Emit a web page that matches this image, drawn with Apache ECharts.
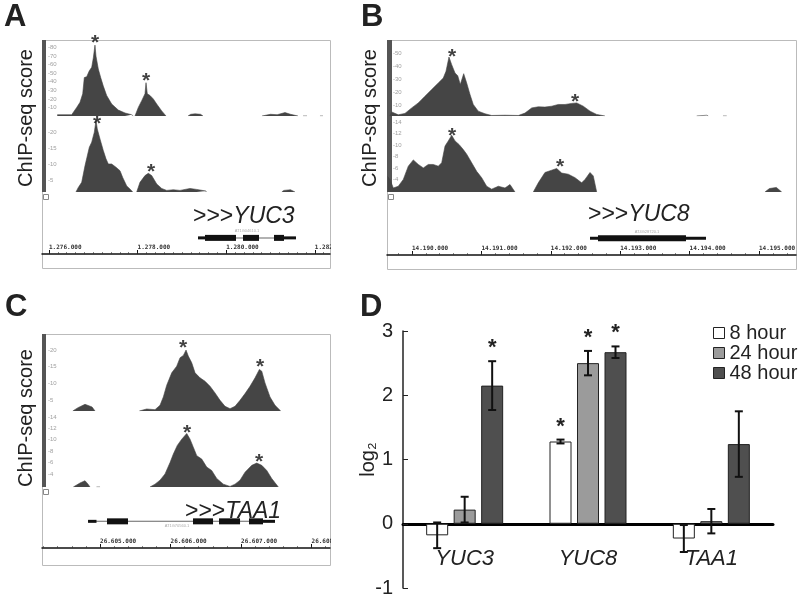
<!DOCTYPE html>
<html>
<head>
<meta charset="utf-8">
<script src="https://cdn.jsdelivr.net/npm/echarts@6/dist/echarts.min.js"></script>
<style>
html,body{margin:0;padding:0;background:#fff}
#main{width:800px;height:598px}
</style>
</head>
<body>
<div id="main"></div>
<script>
// ChIP-seq tracks, x in kb, y = score ; null = no reads
var trackA1 = [[1276.187,1.5],[1276.512,1.5],[1276.625,10],[1276.700,16],[1276.761,26],[1276.797,45],[1276.851,46],[1276.910,53],[1276.964,57],[1277.000,68],[1277.038,83],[1277.061,70],[1277.113,55],[1277.167,45],[1277.226,35],[1277.302,24],[1277.415,14],[1277.564,7],[1277.716,3.5],[1277.867,1.5],[1277.903,0],[1277.92,null],
  [1277.941,0],[1277.95,1.5],[1278.016,10],[1278.093,18],[1278.167,26],[1278.190,39],[1278.219,26],[1278.280,24],[1278.354,20],[1278.431,14],[1278.544,6],[1278.641,0],[1278.9,null],
  [1279.138,0],[1279.2,2],[1279.3,2.5],[1279.42,2],[1279.476,0],[1280.0,null],
  [1280.808,0],[1280.85,1.5],[1281.0,2],[1281.15,1.5],[1281.327,4],[1281.45,2],[1281.621,0],[1281.68,null],
  [1281.734,0],[1281.76,1.5],[1281.824,0],[1282.0,null],[1282.117,0],[1282.15,1.5],[1282.185,0]];
var trackA2 = [[1276.609,1.5],[1276.661,2.9],[1276.738,4.5],[1276.813,9.7],[1276.910,15.4],[1276.964,17],[1277.023,20.1],[1277.061,23.8],[1277.090,21.1],[1277.151,18],[1277.226,14.4],[1277.287,11.8],[1277.339,10.2],[1277.415,10.2],[1277.512,9.2],[1277.603,8.1],[1277.664,6],[1277.754,3.4],[1277.844,2.2],[1277.889,1.5],[1277.93,null],
  [1277.980,1.5],[1277.99,2],[1278.054,4.5],[1278.167,6.6],[1278.242,7.3],[1278.318,6.6],[1278.431,4],[1278.544,2.6],[1278.657,2],[1278.806,2.2],[1278.957,2],[1279.183,2.6],[1279.334,2.3],[1279.544,1.8],[1279.55,1.5],[1280.5,null],
  [1281.253,1.5],[1281.3,2],[1281.45,2.2],[1281.553,1.5]];
var trackB1 = [[14189.680,2],[14189.707,5.1],[14189.803,2.9],[14189.899,4],[14189.996,8.2],[14190.091,12],[14190.187,17.1],[14190.284,22.2],[14190.379,27.2],[14190.451,31],[14190.490,36.1],[14190.533,47],[14190.572,41.2],[14190.620,34.8],[14190.659,32.8],[14190.696,26],[14190.745,34.3],[14190.788,27.2],[14190.836,18.4],[14190.883,10.8],[14190.955,5.7],[14191.052,3.7],[14191.148,2.4],[14191.340,2.6],[14191.532,2.4],[14191.628,4.2],[14191.725,8.2],[14191.820,9],[14191.916,8.8],[14192.013,9.5],[14192.108,10.8],[14192.205,10.8],[14192.301,11.6],[14192.373,12],[14192.468,9.5],[14192.565,5.7],[14192.661,3.2],[14192.781,2],[14193.5,null],
  [14194.102,2],[14194.12,2.6],[14194.25,2.6],[14194.269,2],[14194.4,null],[14194.481,2],[14194.5,3],[14194.535,2]];
var trackB2 = [[14189.650,4.5],[14189.683,4],[14189.731,2.5],[14189.803,2.8],[14189.875,4],[14189.947,6.3],[14190.019,7.4],[14190.091,6.6],[14190.163,6],[14190.235,6.6],[14190.307,6.6],[14190.379,6.3],[14190.428,6.9],[14190.476,9.8],[14190.523,10.7],[14190.572,11.7],[14190.620,10.7],[14190.677,10.1],[14190.739,9.2],[14190.788,8.4],[14190.860,6.9],[14190.932,5.4],[14191.004,4.3],[14191.076,2.8],[14191.148,2.3],[14191.244,2.8],[14191.340,2.5],[14191.412,3.1],[14191.484,1.8],[14191.6,null],
  [14191.748,1.8],[14191.820,3.4],[14191.916,5.2],[14192.013,5.6],[14192.085,5.9],[14192.157,5.1],[14192.252,4.9],[14192.349,4.3],[14192.445,3.4],[14192.493,4],[14192.565,5.2],[14192.612,4.6],[14192.661,1.8],[14194.5,null],
  [14195.086,1.8],[14195.15,2.4],[14195.25,2.6],[14195.327,1.8]];
var trackC1 = [[26604.613,1.8],[26604.688,2.8],[26604.787,3.8],[26604.887,3.0],[26604.929,1.8],[26605.3,null],
  [26605.557,1.8],[26605.57,2.2],[26605.662,2.4],[26605.780,2.2],[26605.851,3.5],[26605.898,6],[26605.946,9.5],[26606.017,13.2],[26606.088,15.2],[26606.135,17.7],[26606.182,18.4],[26606.220,20],[26606.252,18.2],[26606.301,16.2],[26606.348,13.2],[26606.418,11.7],[26606.489,10.7],[26606.560,9.2],[26606.631,7.2],[26606.702,5],[26606.773,3.2],[26606.844,2.5],[26606.915,3.2],[26606.986,5],[26607.057,7],[26607.128,9.2],[26607.199,11.7],[26607.260,14.2],[26607.294,13.7],[26607.340,10.2],[26607.411,6],[26607.482,3.5],[26607.563,1.8]];
var trackC2 = [[26604.621,1.7],[26604.64,2],[26604.716,2.4],[26604.787,2.8],[26604.83,2.2],[26604.858,1.7],[26604.9,null],[26604.95,1.7],[26604.97,2],[26605.0,1.7],[26605.3,null],
  [26605.709,1.7],[26605.780,2.2],[26605.851,2.9],[26605.922,4],[26605.993,6],[26606.040,7.5],[26606.096,9],[26606.159,10.1],[26606.230,11.1],[26606.277,10.1],[26606.323,8.7],[26606.372,7.2],[26606.443,6.6],[26606.513,5.2],[26606.584,4.6],[26606.655,3.2],[26606.749,2.2],[26606.844,1.8],[26606.915,2.2],[26606.986,2.9],[26607.057,4.3],[26607.152,5.5],[26607.223,5.9],[26607.294,5.5],[26607.365,4.6],[26607.435,3.2],[26607.529,1.7]];

// asterisks over the called peaks
var starsA1 = [[1277.038,91.4],[1278.19,47]];
var starsA2 = [[1277.083,24.1],[1278.302,9.1]];
var starsB1 = [[14190.576,50.5],[14192.349,16.3]];
var starsB2 = [[14190.576,12.4],[14192.133,7.0]];
var starsC1 = [[26606.177,22.1],[26607.270,16.4]];
var starsC2 = [[26606.234,12.1],[26607.255,6.9]];

// score axis labels
var labA1 = [10,20,30,40,50,60,70,80];
var labA2 = [5,10,15,20];
var labB1 = [10,20,30,40,50];
var labB2 = [4,6,8,10,12,14];
var labC1 = [5,10,15,20];
var labC2 = [4,6,8,10,12,14];

// ruler ticks (kb)
var rulerA = [1276,1278,1280,1282];
var rulerB = [14190,14191,14192,14193,14194,14195];
var rulerC = [26605,26606,26607,26608];

// gene models: [start, end, kind] kind 0 intron, 1 utr, 2 exon
var geneA = [[1279.363,1281.575,0],[1279.363,1279.521,1],[1281.305,1281.575,1],[1279.521,1280.221,2],[1280.379,1280.740,2],[1281.079,1281.305,2]];
var geneB = [[14192.565,14194.236,0],[14192.565,14192.680,1],[14193.948,14194.236,1],[14192.680,14193.948,2]];
var geneC = [[26604.830,26607.482,0],[26604.830,26604.950,1],[26607.312,26607.482,1],[26605.099,26605.397,2],[26606.319,26606.603,2],[26606.688,26606.986,2],[26607.113,26607.312,2]];

// panel D: qRT-PCR
var genes = ['YUC3','YUC8','TAA1'];
var h8 = [-0.18,1.28,-0.23];
var h8err = [0.2,0.03,0.21];
var h24 = [0.22,2.5,0.04];
var h24err = [0.2,0.19,0.19];
var h48 = [2.15,2.67,1.24];
var h48err = [0.38,0.09,0.51];
var sig8 = [0,1,0];
var sig24 = [0,1,0];
var sig48 = [1,1,0];

var FONT = 'Liberation Sans';
var grids = [], xAxes = [], yAxes = [], series = [];

function bp(v) {
    return Math.round(v * 1000).toString().replace(/\B(?=(\d{3})+(?!\d))/g, '.');
}

function addTrack(left, width, top, height, xr, yr, labels, data, stars) {
    var gi = grids.length;
    grids.push({left: left, top: top, width: width, height: height, outerBoundsMode: 'none'});
    xAxes.push({type: 'value', gridIndex: gi, min: xr[0], max: xr[1], show: false});
    yAxes.push({
        type: 'value', gridIndex: gi, min: yr[0], max: yr[1],
        axisLine: {show: false}, axisTick: {show: false}, splitLine: {show: false},
        axisLabel: {inside: true, customValues: labels, formatter: '-{value}', fontSize: 6, color: '#a0a0a0', margin: 6}
    });
    var xi = xAxes.length - 1, yi = yAxes.length - 1;
    series.push({
        type: 'line', xAxisIndex: xi, yAxisIndex: yi, data: data,
        symbol: 'none', connectNulls: false,
        lineStyle: {color: '#454545', width: 0.6},
        areaStyle: {color: '#454545', opacity: 1, origin: 'start'}
    });
    series.push({
        type: 'scatter', xAxisIndex: xi, yAxisIndex: yi, data: stars, clip: false, z: 6,
        symbolSize: 1, itemStyle: {color: 'rgba(0,0,0,0)'},
        label: {show: true, formatter: '*', position: 'inside', fontSize: 21, fontWeight: 'bold', color: '#111', offset: [0, 5]}
    });
}

function geneRender(params, api) {
    var s = api.coord([api.value(0), 0.62]);
    var e = api.coord([api.value(1), 0.62]);
    var kind = api.value(2);
    var h = kind === 2 ? 6 : (kind === 1 ? 3 : 1);
    return {
        type: 'rect',
        shape: {x: s[0], y: s[1] - h / 2, width: e[0] - s[0], height: h},
        style: {fill: kind === 0 ? '#666' : '#111'}
    };
}

function addRuler(left, width, top, height, xr, major, minorStep, gene) {
    var gi = grids.length;
    grids.push({left: left, top: top, width: width, height: height, outerBoundsMode: 'none'});
    var minor = [];
    for (var v = Math.ceil(xr[0] / minorStep) * minorStep; v < xr[1]; v += minorStep) minor.push(v);
    xAxes.push({
        type: 'value', gridIndex: gi, min: xr[0], max: xr[1], position: 'bottom',
        axisLine: {lineStyle: {color: '#111', width: 1.5}},
        axisTick: {inside: true, length: 4, customValues: major, lineStyle: {color: '#111'}},
        axisLabel: {inside: true, customValues: major, formatter: bp, align: 'left', margin: 4,
            fontSize: 6, fontWeight: 'bold', fontFamily: 'DejaVu Sans Mono', color: '#333'},
        splitLine: {show: false}
    });
    var xi = xAxes.length - 1;
    xAxes.push({
        type: 'value', gridIndex: gi, min: xr[0], max: xr[1], position: 'bottom',
        axisLine: {show: false}, axisLabel: {show: false}, splitLine: {show: false},
        axisTick: {inside: true, length: 2, customValues: minor, lineStyle: {color: '#333', width: 0.6}}
    });
    yAxes.push({type: 'value', gridIndex: gi, min: 0, max: 1, show: false});
    series.push({
        type: 'custom', xAxisIndex: xi, yAxisIndex: yAxes.length - 1,
        data: gene, encode: {x: [0, 1]}, renderItem: geneRender
    });
}

// panel A
addTrack(42, 288, 40, 76, [1275.842, 1282.343], [0, 89], labA1, trackA1, starsA1);
addTrack(42, 288, 118, 74, [1275.842, 1282.343], [1.5, 24.5], labA2, trackA2, starsA2);
addRuler(42, 288, 228, 26, [1275.842, 1282.343], rulerA, 0.2, geneA);
// panel B
addTrack(387, 409, 40, 76, [14189.640, 14195.533], [2, 60], labB1, trackB1, starsB1);
addTrack(387, 409, 118, 74, [14189.640, 14195.533], [1.8, 14.7], labB2, trackB2, starsB2);
addRuler(387, 409, 228, 27, [14189.640, 14195.533], rulerB, 0.2, geneB);
// panel C
addTrack(42, 288, 334, 77, [26604.177, 26608.262], [1.8, 24.8], labC1, trackC1, starsC1);
addTrack(42, 288, 413, 74, [26604.177, 26608.262], [1.7, 14.7], labC2, trackC2, starsC2);
addRuler(42, 288, 505, 43, [26604.177, 26608.262], rulerC, 0.2, geneC);

// panel D
var gD = grids.length;
grids.push({left: 403, right: 27, top: 331, bottom: 10, outerBoundsMode: 'none'});
xAxes.push({
    type: 'category', gridIndex: gD, data: genes,
    axisLine: {onZero: true, lineStyle: {color: '#000', width: 3}},
    axisTick: {show: false},
    axisLabel: {fontSize: 22, fontStyle: 'italic', color: '#222', margin: -40}
});
yAxes.push({
    type: 'value', gridIndex: gD, min: -1, max: 3, interval: 1,
    name: 'log\u2082', nameLocation: 'middle', nameGap: 25, nameRotate: 90, nameMoveOverlap: false,
    nameTextStyle: {fontSize: 20, color: '#222'},
    axisLine: {show: true, lineStyle: {color: '#222', width: 1.5}},
    axisTick: {show: true, inside: true, length: 5, lineStyle: {color: '#222'}},
    splitLine: {show: false},
    axisLabel: {fontSize: 20, color: '#222', margin: 10}
});
var xD = xAxes.length - 1, yD = yAxes.length - 1;

function barSeries(name, vals, color) {
    return {
        name: name, type: 'bar', xAxisIndex: xD, yAxisIndex: yD, data: vals,
        barWidth: 22, barGap: '25%',
        itemStyle: {color: color, borderColor: '#222', borderWidth: 1}
    };
}

function errSeries(vals, errs, sig, offset) {
    return {
        type: 'custom', xAxisIndex: xD, yAxisIndex: yD, z: 5,
        data: vals.map(function (v, i) { return [i, v, errs[i], sig[i]]; }),
        encode: {x: 0, y: 1},
        renderItem: function (params, api) {
            var i = api.value(0), v = api.value(1), e = api.value(2);
            var p1 = api.coord([i, v + e]), p2 = api.coord([i, v - e]);
            var x = p1[0] + offset;
            var st = {stroke: '#111', lineWidth: 2};
            var kids = [
                {type: 'line', shape: {x1: x, y1: p1[1], x2: x, y2: p2[1]}, style: st},
                {type: 'line', shape: {x1: x - 4, y1: p1[1], x2: x + 4, y2: p1[1]}, style: st},
                {type: 'line', shape: {x1: x - 4, y1: p2[1], x2: x + 4, y2: p2[1]}, style: st}
            ];
            if (api.value(3)) {
                kids.push({type: 'text', x: x, y: p1[1] - 13,
                    style: {text: '*', fontSize: 22, fontWeight: 'bold', fontFamily: FONT, fill: '#222', align: 'center', verticalAlign: 'middle'}});
            }
            return {type: 'group', children: kids};
        }
    };
}

series.push(barSeries('8 hour', h8, '#ffffff'));
series.push(barSeries('24 hour', h24, '#9b9b9b'));
series.push(barSeries('48 hour', h48, '#4f4f4f'));
series.push(errSeries(h8, h8err, sig8, -27.5));
series.push(errSeries(h24, h24err, sig24, 0));
series.push(errSeries(h48, h48err, sig48, 27.5));

function letter(t, x, y) {
    return {type: 'text', x: x, y: y, style: {text: t, fontSize: 31, fontWeight: 'bold', fontFamily: FONT, fill: '#222', verticalAlign: 'middle'}};
}
function chipLabel(x, y) {
    return {type: 'text', x: x, y: y, rotation: Math.PI / 2,
        style: {text: 'ChIP-seq score', fontSize: 20, fontFamily: FONT, fill: '#222', align: 'center', verticalAlign: 'middle'}};
}
function geneLabel(name, x, y) {
    return {type: 'text', x: x, y: y,
        style: {text: '>>>{i|' + name + '}', fontSize: 23, fontFamily: FONT, fill: '#222', verticalAlign: 'middle',
            rich: {i: {fontSize: 23, fontStyle: 'italic', fontFamily: FONT, fill: '#222'}}}};
}
function tiny(t, x, y) {
    return {type: 'text', x: x, y: y, style: {text: t, fontSize: 4, fill: '#aaa', align: 'center', verticalAlign: 'middle'}};
}
function frame(x, y, w, h) {
    return {type: 'rect', shape: {x: x + 0.5, y: y + 0.5, width: w, height: h}, style: {fill: 'none', stroke: '#bbb', lineWidth: 1}};
}
function bar(x, y, w, h) {
    return {type: 'rect', shape: {x: x, y: y, width: w, height: h}, style: {fill: '#555'}};
}
function icon(x, y) {
    return {type: 'rect', shape: {x: x + 0.5, y: y + 0.5, width: 5, height: 5}, style: {fill: '#fff', stroke: '#888', lineWidth: 1}};
}
function white(x, y, w, h) {
    return {type: 'rect', z: 100, shape: {x: x, y: y, width: w, height: h}, style: {fill: '#fff'}};
}

var chart = echarts.init(document.getElementById('main'));
chart.setOption({
    animation: false,
    textStyle: {fontFamily: FONT},
    grid: grids,
    xAxis: xAxes,
    yAxis: yAxes,
    legend: {
        data: ['8 hour', '24 hour', '48 hour'], orient: 'vertical', left: 708, top: 318,
        icon: 'rect', itemWidth: 11, itemHeight: 11, itemGap: 0,
        itemStyle: {borderColor: '#222', borderWidth: 1},
        textStyle: {fontSize: 20, color: '#222', lineHeight: 20, fontFamily: FONT}
    },
    graphic: [
        frame(42, 40, 288, 228), frame(387, 40, 409, 229), frame(42, 334, 288, 231),
        bar(42, 40, 4, 152), bar(387, 40, 5, 152), bar(42, 334, 4, 153),
        icon(43, 194), icon(388, 194), icon(43, 489),
        white(331, 240, 28, 16), white(331, 534, 30, 16),
        letter('A', 4, 17), letter('B', 361, 17), letter('C', 5, 307), letter('D', 360, 307),
        chipLabel(26, 118), chipLabel(370, 118), chipLabel(26, 418),
        geneLabel('YUC3', 193, 217), geneLabel('YUC8', 588, 215), geneLabel('TAA1', 185, 512),
        tiny('AT1G04610.1', 247, 231), tiny('AT4G28720.1', 647, 232), tiny('AT1G70560.1', 177, 526)
    ],
    series: series
});
</script>
</body>
</html>
